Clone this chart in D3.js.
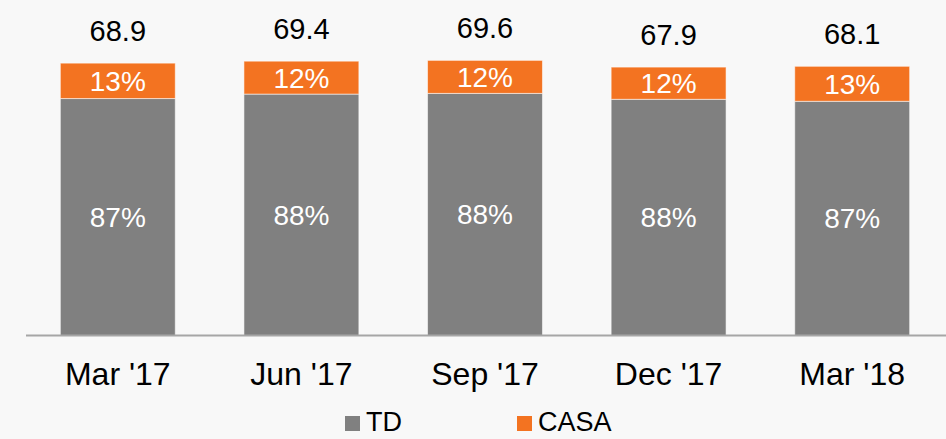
<!DOCTYPE html>
<html>
<head>
<meta charset="utf-8">
<script src="https://cdn.jsdelivr.net/npm/d3@7"></script>
<style>
  html, body { margin: 0; padding: 0; background: #f8f8f8; }
  svg { display: block; font-family: Arial, "Liberation Sans", sans-serif; }
</style>
</head>
<body>
<svg id="chart" width="946" height="439"></svg>
<script>
const categories = ["Mar '17", "Jun '17", "Sep '17", "Dec '17", "Mar '18"];
const totals = [68.9, 69.4, 69.6, 67.9, 68.1];
const tdPct = [87, 88, 88, 88, 87];
const casaPct = [13, 12, 12, 12, 13];
const seriesNames = ["TD", "CASA"];
const colors = { TD: "#808080", CASA: "#f37321" };

const W = 946, H = 439;
const svg = d3.select("#chart");

const x = d3.scaleBand().domain(categories).range([26, 944]).paddingInner(0.374).paddingOuter(0.187);
const y = d3.scaleLinear().domain([0, 80]).range([335.5, 335.5 - 80 * 3.953]);

const rows = categories.map((c, i) => ({
  cat: c,
  total: totals[i],
  TD: totals[i] * tdPct[i] / 100,
  CASA: totals[i] * casaPct[i] / 100,
  tdPct: tdPct[i],
  casaPct: casaPct[i]
}));

const stack = d3.stack().keys(seriesNames)(rows);

const g = svg.append("g");

stack.forEach(layer => {
  const key = layer.key;
  g.selectAll(null).data(layer).enter().append("rect")
    .attr("x", d => x(d.data.cat))
    .attr("width", x.bandwidth())
    .attr("y", d => y(d[1]))
    .attr("height", d => y(d[0]) - y(d[1]))
    .attr("fill", colors[key])
    .attr("stroke", "rgba(255,255,255,0.55)")
    .attr("stroke-width", 1);

  g.selectAll(null).data(layer).enter().append("text")
    .attr("x", d => x(d.data.cat) + x.bandwidth() / 2)
    .attr("y", d => (y(d[0]) + y(d[1])) / 2 + 10)
    .attr("text-anchor", "middle")
    .attr("fill", "#ffffff")
    .attr("font-size", 28)
    .text(d => (key === "TD" ? d.data.tdPct : d.data.casaPct) + "%");
});

// totals
g.selectAll(null).data(rows).enter().append("text")
  .attr("x", d => x(d.cat) + x.bandwidth() / 2)
  .attr("y", d => y(d.total) - 22)
  .attr("text-anchor", "middle")
  .attr("fill", "#000")
  .attr("font-size", 29)
  .text(d => d.total.toFixed(1));

// axis
const axis = svg.append("g")
  .attr("transform", `translate(0,${y(0)})`)
  .call(d3.axisBottom(x).tickSize(0).tickPadding(27));
axis.select(".domain").remove();
axis.append("line")
  .attr("x1", 26).attr("x2", W)
  .attr("stroke", "#a6a6a6").attr("stroke-width", 2);
axis.selectAll(".tick text")
  .attr("font-size", 32)
  .attr("font-family", "Arial, 'Liberation Sans', sans-serif")
  .attr("fill", "#000");

// legend
const legendItems = [
  { name: "TD", x: 345 },
  { name: "CASA", x: 517 }
];
const lg = svg.append("g");
legendItems.forEach(it => {
  lg.append("rect")
    .attr("x", it.x).attr("y", 416)
    .attr("width", 15).attr("height", 15)
    .attr("fill", colors[it.name]);
  lg.append("text")
    .attr("x", it.x + 21).attr("y", 430.7)
    .attr("font-size", 27)
    .attr("fill", "#000")
    .text(it.name);
});
</script>
</body>
</html>
